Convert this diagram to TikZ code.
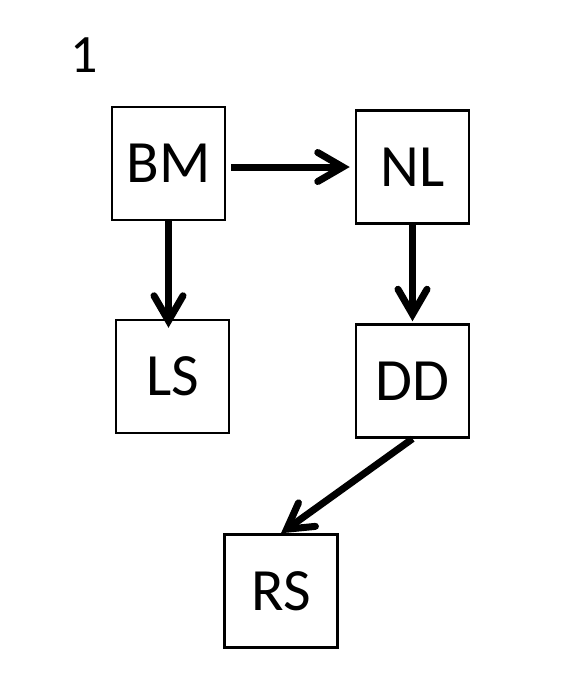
\documentclass[tikz,border=0pt]{standalone}
\usepackage{fontspec}
\setmainfont{Carlito}
\usetikzlibrary{arrows.meta}

\begin{document}
\begin{tikzpicture}[x=0.5pt, y=-0.5pt, >={Straight Barb[length=12.5pt, width=14.5pt, line cap=round]},
    box/.style={draw, line width=1.25pt, minimum size=56.5pt, inner sep=0pt, font=\fontsize{30}{36}\selectfont},
    link/.style={->, line width=3.5pt}]
    \useasboundingbox (0,0) rectangle (572,676);

    % Label
    \node[font=\fontsize{27}{32}\selectfont] (num) at (84,55) {1};

    % Boxes
    \node[box] (bm) at (168.5,163.5) {BM};
    \node[box] (nl) at (412.5,167) {NL};
    \node[box] (ls) at (172.5,376.5) {LS};
    \node[box] (dd) at (412.5,381) {DD};
    \node[box] (rs) at (281,591) {RS};

    % Arrows
    \draw[link, shorten <=2.5pt, shorten >=2.5pt] (bm.east |- nl.west) -- (nl.west);
    \draw[link, shorten >=-4.5pt] (bm.south) -- (bm.south |- ls.north);
    \draw[link, shorten >=1pt] (nl.south) -- (dd.north);
    \draw[link] (dd.south) -- (rs.north);
\end{tikzpicture}
\end{document}
